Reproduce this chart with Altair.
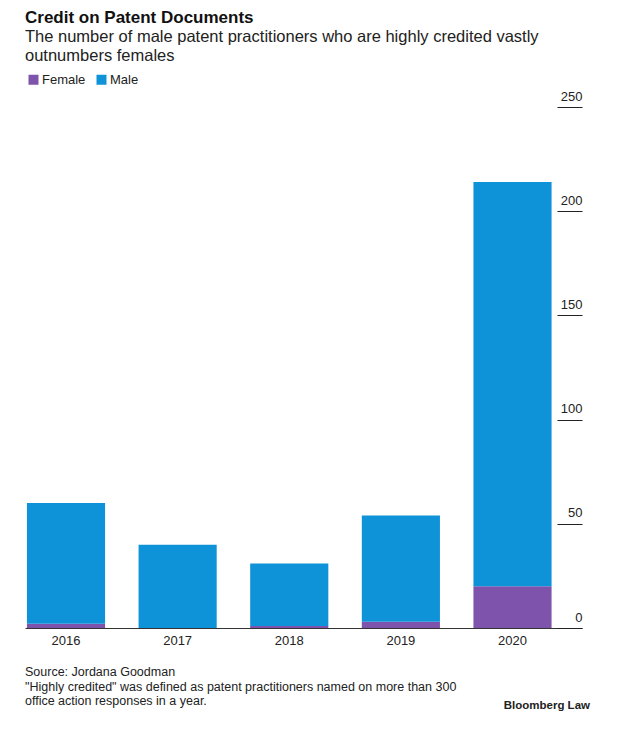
import altair as alt
import pandas as pd

years = ["2016", "2017", "2018", "2019", "2020"]
female = [2, 0, 1, 3, 20]
male = [58, 40, 30, 51, 194]
y_ticks = [0, 50, 100, 150, 200, 250]

FONT = "Liberation Sans"
FEMALE_C = "#7E53AB"
MALE_C = "#0F93D8"

rows = []
for yr, f, m in zip(years, female, male):
    rows.append({"year": yr, "gender": "Female", "value": f, "ord": 0})
    rows.append({"year": yr, "gender": "Male", "value": m, "ord": 1})
df = pd.DataFrame(rows)

W, H = 557, 521

bars = alt.Chart(df).mark_bar().encode(
    x=alt.X("year:N", title=None,
            scale=alt.Scale(paddingInner=0.3, paddingOuter=0.145, align=0.06),
            axis=alt.Axis(labelAngle=0, ticks=False, domainColor="#333333",
                          domainWidth=1, labelFontSize=13, labelPadding=6,
                          labelColor="#222222", labelFont=FONT)),
    y=alt.Y("value:Q", stack="zero", title=None,
            scale=alt.Scale(domain=[0, 250], nice=False),
            axis=alt.Axis(orient="right", values=y_ticks, grid=False, domain=False,
                          tickSize=25, offset=-25, tickColor="#222222",
                          labelAlign="right", labelBaseline="bottom",
                          labelOffset=-4, labelPadding=0, labelFontSize=13,
                          labelColor="#222222", labelFont=FONT)),
    color=alt.Color("gender:N",
                    scale=alt.Scale(domain=["Female", "Male"], range=[FEMALE_C, MALE_C]),
                    legend=alt.Legend(title=None, orient="none", legendX=2, legendY=-34,
                                      direction="horizontal", symbolType="square",
                                      symbolSize=100, symbolStrokeWidth=0,
                                      labelFontSize=13, labelFont=FONT,
                                      labelColor="#222222", columnPadding=9,
                                      labelOffset=2)),
    order=alt.Order("ord:Q", sort="ascending"),
)

notes = pd.DataFrame({
    "t": ["Source: Jordana Goodman",
          "\"Highly credited\" was defined as patent practitioners named on more than 300",
          "office action responses in a year."],
    "i": [0, 1, 2],
})
footer = alt.Chart(notes).mark_text(align="left", baseline="middle", fontSize=12.5,
                                    font=FONT, color="#222222").encode(
    x=alt.value(0),
    y=alt.Y("i:Q", axis=None, scale=alt.Scale(domain=[0, 2], range=[565, 594], nice=False, zero=False)),
    text="t:N",
)

brand = alt.Chart(pd.DataFrame({"t": ["Bloomberg Law"]})).mark_text(
    align="right", baseline="middle", fontSize=11.5, fontWeight="bold", font=FONT,
    color="#222222").encode(x=alt.value(565), y=alt.value(599), text="t:N")

chart = alt.layer(bars, footer, brand).resolve_scale(y="independent").properties(
    width=W, height=H,
    padding={"left": 17, "top": 0, "right": 10, "bottom": 10},
    title=alt.TitleParams(
        "Credit on Patent Documents",
        subtitle=["The number of male patent practitioners who are highly credited vastly",
                  "outnumbers females"],
        anchor="start", font=FONT, fontSize=17, fontWeight="bold", color="#111111",
        subtitleFont=FONT, subtitleFontSize=16.5, subtitleColor="#222222",
        subtitleLineHeight=19, subtitlePadding=2, offset=8,
    ),
).configure_view(stroke=None)

chart.save("out.html", embed_options={"renderer": "svg", "actions": False})
